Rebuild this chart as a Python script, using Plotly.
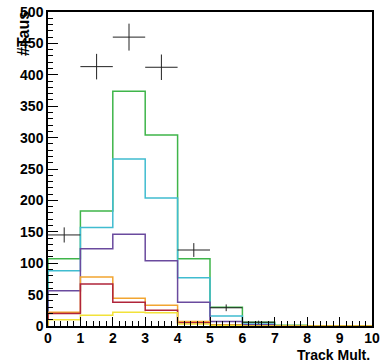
import numpy as np
import plotly.graph_objects as go

edges = [0, 1, 2, 3, 4, 5, 6, 7, 8, 9, 10]
green = [107, 183, 374, 304, 107, 30, 6, 1, 0, 0]
cyan = [88, 157, 266, 204, 77, 16, 3, 0, 0, 0]
purple = [56, 123, 146, 104, 38, 7, 2, 0, 0, 0]
orange = [22, 78, 44, 33, 7, 2, 0, 0, 0, 0]
red = [20, 67, 38, 25, 5, 1, 0, 0, 0, 0]
yellow = [10, 17, 22, 21, 3, 1, 0, 0, 0, 0]

data_x = [0.5, 1.5, 2.5, 3.5, 4.5, 5.5, 6.5]
data_y = [145, 413, 460, 412, 121, 29, 6]

x_ticks = list(range(11))
y_ticks = list(range(0, 501, 50))

hists = [
    ("green", green, "#3fb54a"),
    ("cyan", cyan, "#40bcd0"),
    ("purple", purple, "#6a4a9e"),
    ("orange", orange, "#f2a531"),
    ("red", red, "#b0243a"),
    ("yellow", yellow, "#f2e23a"),
]

fig = go.Figure()
for name, vals, col in hists:
    xs = [edges[0]] + edges
    ys = [0] + vals + [vals[-1]]
    fig.add_trace(go.Scatter(x=xs, y=ys, mode="lines", line=dict(shape="hv", color=col, width=1.5),
                             name=name, showlegend=False, hoverinfo="skip"))

fig.add_trace(go.Scatter(
    x=data_x, y=data_y, mode="markers",
    marker=dict(size=0.1, color="black"),
    error_y=dict(type="data", array=list(np.sqrt(data_y)), color="#222", thickness=1, width=0),
    error_x=dict(type="constant", value=0.5, color="#222", thickness=1, width=0),
    showlegend=False))

font = dict(family="Liberation Sans", size=14, color="black")
title_font = dict(family="Liberation Sans", size=16, color="black")

fig.update_layout(
    width=380, height=364,
    margin=dict(l=48, r=0, t=12, b=38),
    paper_bgcolor="white", plot_bgcolor="white",
    xaxis=dict(range=[0, 10], tickmode="array", tickvals=x_ticks,
               ticktext=[f"<b>{v}</b>" for v in x_ticks],
               ticks="inside", ticklen=9, tickcolor="black", tickwidth=1,
               minor=dict(dtick=0.2, ticks="inside", ticklen=5, tickcolor="black"),
               showline=True, linecolor="black", linewidth=1.5, mirror=True,
               showgrid=False, zeroline=False, tickfont=font, ticklabelstandoff=-2,
               ticklabeloverflow="allow"),
    yaxis=dict(range=[0, 500], tickmode="array", tickvals=y_ticks,
               ticktext=[f"<b>{v}</b>" for v in y_ticks],
               ticks="inside", ticklen=10, tickcolor="black", tickwidth=1,
               minor=dict(dtick=10, ticks="inside", ticklen=5, tickcolor="black"),
               showline=True, linecolor="black", linewidth=1.5, mirror=True,
               showgrid=False, zeroline=False, tickfont=font, ticklabelstandoff=0,
               ticklabeloverflow="allow"),
    annotations=[
        dict(text="<b>#Taus</b>", textangle=-90, xref="paper", yref="paper", x=0, y=1.0,
             xanchor="right", yanchor="top", xshift=-14, yshift=3, showarrow=False, font=title_font),
        dict(text="<b>Track Mult.</b>", xref="paper", yref="paper", x=1, y=-0.092,
             xanchor="right", yanchor="middle", showarrow=False, font=font),
    ],
)

fig.write_html("out.html")
